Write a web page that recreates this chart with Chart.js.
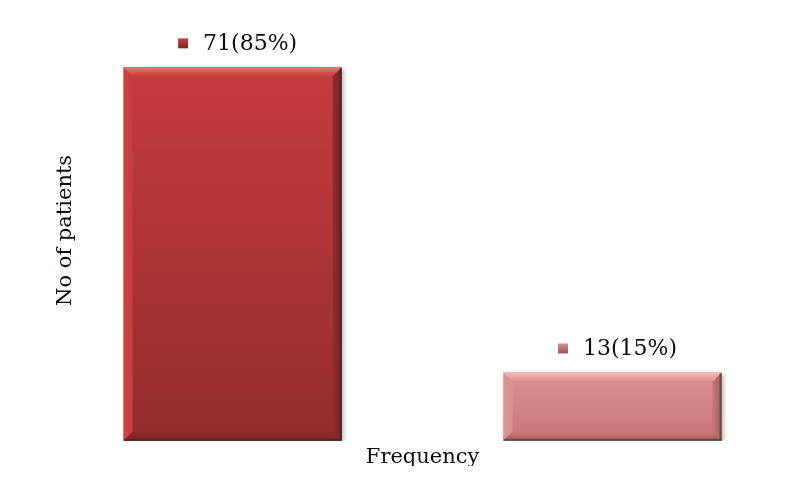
<!DOCTYPE html>
<html>
<head>
<meta charset="utf-8">
<script src="https://cdn.jsdelivr.net/npm/chart.js@4"></script>
<style>
  html, body { margin: 0; padding: 0; background: #fff; }
  #wrap { width: 808px; height: 489px; }
</style>
</head>
<body>
<div id="wrap"><canvas id="chart"></canvas></div>
<script>
const categories = ["Frequency"];
const counts = [71, 13];
const percents = [85, 15];

const FONT = "'DejaVu Serif', serif";

const palettes = [
  { top: "#c63d3c", bottom: "#922c2b", hiTop: "#f07370", hiLeft: "#c94544", dark: "#7a2424", edge: "rgba(70,40,40,0.75)", marker: ["#c24545", "#7d2323"] },
  { top: "#db9090", bottom: "#c97676", hiTop: "#f7bcbb", hiLeft: "#dc9494", dark: "#a56060", edge: "rgba(90,60,60,0.75)", marker: ["#d89090", "#9a5656"] },
];

function faceGradient(i) {
  return (c) => {
    const chart = c.chart;
    if (!chart.chartArea) return palettes[i].top;
    const y = chart.scales.y;
    const g = chart.ctx.createLinearGradient(0, y.getPixelForValue(counts[i]), 0, y.getPixelForValue(0));
    g.addColorStop(0, palettes[i].top);
    g.addColorStop(1, palettes[i].bottom);
    return g;
  };
}

function poly(ctx, pts, fill) {
  ctx.beginPath();
  ctx.moveTo(pts[0][0], pts[0][1]);
  for (let k = 1; k < pts.length; k++) ctx.lineTo(pts[k][0], pts[k][1]);
  ctx.closePath();
  ctx.fillStyle = fill;
  ctx.fill();
}

function lin(ctx, x0, y0, x1, y1, c0, c1) {
  const g = ctx.createLinearGradient(x0, y0, x1, y1);
  g.addColorStop(0, c0);
  g.addColorStop(1, c1);
  return g;
}

const bevelPlugin = {
  id: "bevel",
  beforeDatasetDraw(chart) {
    const ctx = chart.ctx;
    ctx.save();
    ctx.shadowColor = "rgba(0,0,0,0.3)";
    ctx.shadowBlur = 5;
    ctx.shadowOffsetX = 2;
    ctx.shadowOffsetY = 2;
  },
  afterDatasetDraw(chart, args) {
    const ctx = chart.ctx;
    ctx.restore();
    const p = palettes[args.index];
    args.meta.data.forEach((el) => {
      const l = el.x - el.width / 2, r = el.x + el.width / 2;
      const t = el.y, b = el.base, d = 9;
      poly(ctx, [[l, t], [l + d, t + d], [l + d, b - d], [l, b]], lin(ctx, l, 0, l + d, 0, p.hiLeft, p.top));
      poly(ctx, [[r, t], [r - d, t + d], [r - d, b - d], [r, b]], lin(ctx, r - d, 0, r, 0, p.bottom, p.dark));
      poly(ctx, [[l, b], [l + d, b - d], [r - d, b - d], [r, b]], lin(ctx, 0, b - d, 0, b, p.bottom, p.dark));
      poly(ctx, [[l, t], [r, t], [r - d, t + d], [l + d, t + d]], lin(ctx, 0, t, 0, t + d, p.hiTop, p.top));
      ctx.fillStyle = p.edge;
      ctx.fillRect(r - 2, t + 1, 2, b - t - 1);
      ctx.fillRect(l, b - 2, r - l, 2);
    });
  },
};

const labelPlugin = {
  id: "labels",
  afterDatasetsDraw(chart) {
    const ctx = chart.ctx;
    ctx.save();
    ctx.font = "22px " + FONT;
    ctx.textBaseline = "middle";
    chart.data.datasets.forEach((ds, i) => {
      const el = chart.getDatasetMeta(i).data[0];
      const text = `${counts[i]}(${percents[i]}%)`;
      const tw = ctx.measureText(text).width;
      const m = 10, gap = 15;
      const start = el.x - (m + gap + tw) / 2 + 5;
      const cy = el.y - 24;
      ctx.fillStyle = lin(ctx, 0, cy - m / 2, 0, cy + m / 2, palettes[i].marker[0], palettes[i].marker[1]);
      ctx.fillRect(start, cy - m / 2, m, m);
      ctx.fillStyle = "#0d0d1a";
      ctx.textAlign = "left";
      ctx.fillText(text, start + m + gap, cy + 1);
    });
    ctx.restore();
  },
};

new Chart(document.getElementById("chart"), {
  type: "bar",
  data: {
    labels: categories,
    datasets: counts.map((v, i) => ({
      label: `Series ${i + 1}`,
      data: [v],
      backgroundColor: faceGradient(i),
      borderWidth: 0,
      categoryPercentage: 1.126,
      barPercentage: 0.574,
    })),
  },
  options: {
    responsive: true,
    maintainAspectRatio: false,
    animation: false,
    layout: { padding: { left: 44, right: 48, top: 20, bottom: 23 } },
    plugins: {
      legend: { display: false },
      tooltip: { enabled: false },
    },
    scales: {
      x: {
        grid: { display: false },
        border: { display: false },
        ticks: { color: "#0d0d1a", font: { family: FONT, size: 21 }, padding: -4 },
      },
      y: {
        min: 0,
        max: 80,
        grid: { display: false },
        border: { display: false },
        ticks: { display: false },
        title: { display: true, text: "No of patients", color: "#0d0d1a", font: { family: FONT, size: 21 }, padding: { top: 9, bottom: -1 } },
      },
    },
  },
  plugins: [bevelPlugin, labelPlugin],
});
</script>
</body>
</html>
